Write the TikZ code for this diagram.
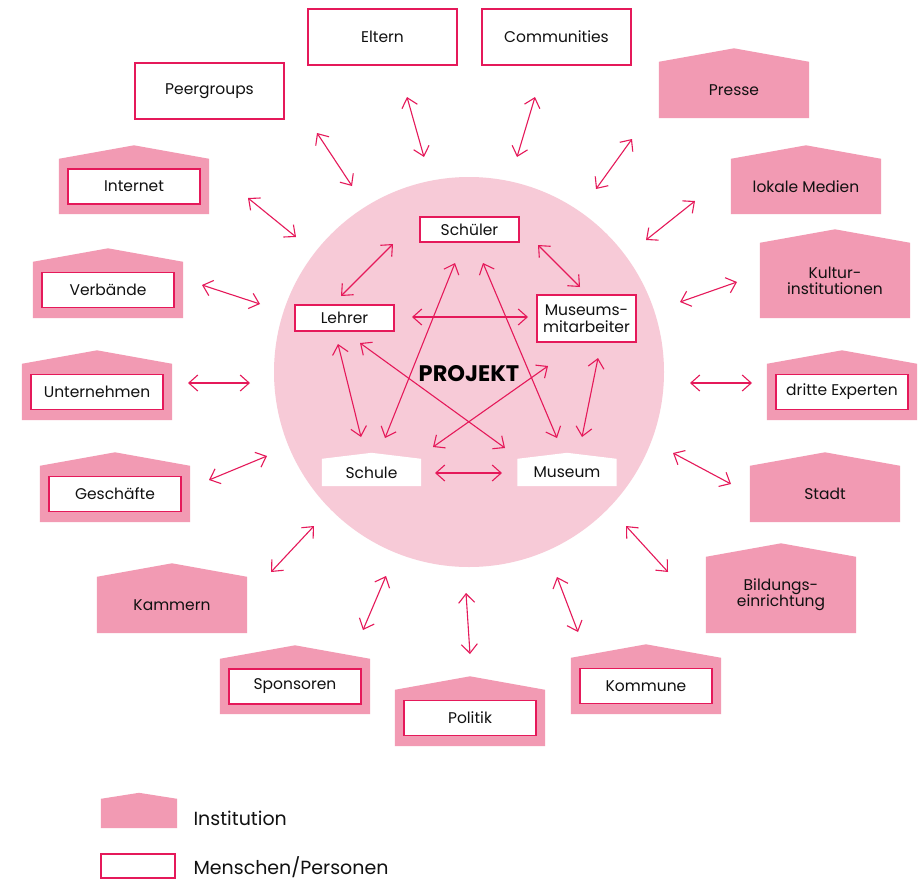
\documentclass[tikz,border=0pt]{standalone}
\usepackage{fontspec}
\setmainfont{Poppins}
\usetikzlibrary{arrows.meta,calc}
\definecolor{instpink}{HTML}{F29AB3}
\definecolor{circpink}{HTML}{F7CAD7}
\definecolor{linered}{HTML}{E5195A}
\definecolor{txt}{HTML}{111111}
\tikzset{
  lbl/.style={font=\fontsize{15.5}{18}\selectfont, text=txt, align=center},
  instbody/.style={lbl, minimum width=150pt, inner sep=0pt},
  persbox/.style={lbl, draw=linered, line width=1.2pt, fill=white, minimum width=149pt, minimum height=56pt, inner sep=0pt},
  innerbox/.style={lbl, draw=linered, line width=1.2pt, fill=white, minimum width=132pt, minimum height=35pt, inner sep=0pt},
  smallbox/.style={lbl, draw=linered, line width=1.2pt, fill=white, minimum width=99pt, inner sep=0pt},
  whitehouse/.style={lbl, minimum width=99pt, minimum height=27pt, inner sep=0pt},
  conn/.style={linered, line width=1.1pt, {Straight Barb[length=9pt,width=16pt]}-{Straight Barb[length=9pt,width=16pt]}},
}
% name, cx, shoulder y, bottom y, text
\newcommand{\insthouse}[5]{%
  \node[instbody, minimum height={#4-#3}] (#1h) at (#2,{(#3+#4)/2}) {};
  \fill[instpink] (#1h.south west) -- (#1h.north west) -- ($(#1h.north)+(0,-13.5)$) -- (#1h.north east) -- (#1h.south east) -- cycle;
  \node[lbl] (#1) at (#1h.center) {#5};
}
% house with inner person box
\newcommand{\insthousebox}[5]{%
  \node[instbody, minimum height={#4-#3}] (#1h) at (#2,{(#3+#4)/2}) {};
  \fill[instpink] (#1h.south west) -- (#1h.north west) -- ($(#1h.north)+(0,-13.5)$) -- (#1h.north east) -- (#1h.south east) -- cycle;
  \node[innerbox] (#1) at (#1h.center) {#5};
}
\newcommand{\link}[5]{%
  \coordinate (#1a) at (#2,#3);
  \coordinate (#1b) at (#4,#5);
  \draw[conn] (#1a) -- (#1b);
}
\begin{document}
\begin{tikzpicture}[x=1pt,y=-1pt]
\useasboundingbox (0,0) rectangle (924,881);
\fill[white] (0,0) rectangle (924,881);

% central circle
\node[circle, fill=circpink, minimum size=390pt, inner sep=0pt] (circ) at (469,372) {};

% person boxes
\node[persbox] (peer) at (209.5,91) {Peergroups};
\node[persbox] (eltern) at (382.5,37) {Eltern};
\node[persbox] (comm) at (556.5,37) {Communities};

% institutions
\insthouse{presse}{734}{62}{118}{Presse}
\insthouse{lokal}{806}{159}{214}{lokale Medien}
\insthouse{kultur}{835}{243}{318}{Kultur-\\[-2pt]institutionen}
\insthousebox{dritte}{842}{364}{420}{dritte Experten}
\insthouse{stadt}{825}{466}{522}{Stadt}
\insthouse{bildung}{781}{557}{633}{Bildungs-\\[-2pt]einrichtung}
\insthousebox{kommune}{646}{658}{714}{Kommune}
\insthousebox{politik}{470}{690}{746}{Politik}
\insthousebox{sponsor}{295}{659}{714}{Sponsoren}
\insthouse{kammern}{172}{577}{633}{Kammern}
\insthousebox{gesch}{115}{466}{522}{Geschäfte}
\insthousebox{untern}{97}{364}{420}{Unternehmen}
\insthousebox{verb}{108}{262}{318}{Verbände}
\insthousebox{internet}{134}{159}{214}{Internet}

% outer arrows
\link{peer}{317}{133}{352}{186}
\link{elt}{407}{97}{424}{157}
\link{com}{535}{97}{517}{157}
\link{pre}{632}{139}{596}{189}
\link{lok}{695}{201}{646}{240}
\link{kul}{737}{282}{680}{302}
\link{dri}{690}{383}{752}{383}
\link{sta}{673}{453}{731}{484}
\link{bil}{626}{526}{668}{572}
\link{kom}{557}{577}{578}{632}
\link{pol}{466}{593}{470}{654}
\link{spo}{386}{576}{363}{630}
\link{kam}{314}{526}{271}{572}
\link{ges}{267}{456}{209}{480}
\link{unt}{250}{383}{188}{383}
\link{ver}{260}{304}{202}{285}
\link{int}{296}{237}{248}{198}

% inner nodes
\node[smallbox, minimum height=25pt] (schueler) at (469.5,229.5) {Schüler};
\node[smallbox, minimum height=26pt] (lehrer) at (344.5,318) {Lehrer};
\node[smallbox, minimum height=47pt, font=\fontsize{15.5}{17}\selectfont] (mitarb) at (586.5,318.5) {Museums-\\mitarbeiter};
\node[whitehouse] (schule) at (371.5,472.5) {};
\fill[white] (schule.south west) -- (schule.north west) -- ($(schule.north)+(0,-6)$) -- (schule.north east) -- (schule.south east) -- cycle;
\node[lbl] (schuletxt) at (schule.center) {Schule};
\node[whitehouse] (museum) at (567,472.5) {};
\fill[white] (museum.south west) -- (museum.north west) -- ($(museum.north)+(0,-6)$) -- (museum.north east) -- (museum.south east) -- cycle;
\node[lbl] (museumtxt) at (museum.center) {Museum};
\node[font=\fontsize{22.5}{24}\selectfont\bfseries, text=black] (projekt) at (469,374) {PROJEKT};

% inner arrows
\link{sl}{393}{244}{341}{296}
\link{sm}{538}{245}{580}{287}
\link{lm}{412}{317}{528}{317}
\link{lsc}{338}{344}{361}{437}
\link{lmu}{360}{343}{505}{448}
\link{ssc}{455}{263}{385}{438}
\link{smu}{483}{263}{557}{438}
\link{msc}{548}{366}{433}{447}
\link{mmu}{598}{358}{582}{437}
\link{scm}{435}{473}{502}{473}

% legend
\node[minimum width=76pt, minimum height=29pt, inner sep=0pt] (leginst) at (139,813.5) {};
\fill[instpink] (leginst.south west) -- (leginst.north west) -- ($(leginst.north)+(0,-6)$) -- (leginst.north east) -- (leginst.south east) -- cycle;
\node[anchor=west, font=\fontsize{19}{22}\selectfont, text=txt] (instlbl) at (190,818) {Institution};
\node[draw=linered, line width=1.2pt, fill=white, minimum width=74pt, minimum height=24pt, inner sep=0pt] (legpers) at (138,866) {};
\node[anchor=west, font=\fontsize{19}{22}\selectfont, text=txt] (perslbl) at (190,867) {Menschen/Personen};
\end{tikzpicture}
\end{document}
